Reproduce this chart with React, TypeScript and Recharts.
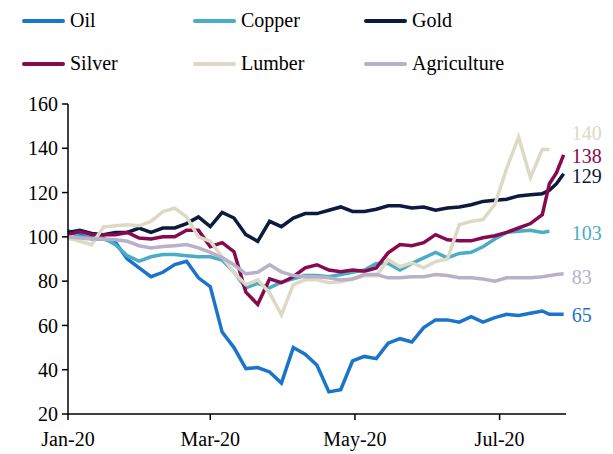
import { Legend, Line, LineChart, ReferenceDot, XAxis, YAxis } from 'recharts'

// days since 1 Jan 2020
const days = [
  0, 5, 10, 15, 20, 25, 30, 35, 40, 45, 50, 55, 60, 65, 70, 75, 80, 85, 90, 95, 100, 105,
  110, 115, 120, 125, 130, 135, 140, 145, 150, 155, 160, 165, 170, 175, 180, 185, 190, 195,
  200, 203, 206, 209,
]

const oil = [
  102, 101, 99, 99, 97.5, 90, 86, 82, 84, 87.5, 89, 81.5, 77.5, 57, 50, 40.5, 41, 39, 34, 50,
  47, 42, 30, 31, 44, 46, 45, 52, 54, 52.5, 59, 62.5, 62.5, 61.5, 64, 61.5, 63.5, 65, 64.5,
  65.5, 66.5, 65, 65, 65,
]
const copper = [
  103, 100, 99.5, 99.5, 96.5, 91.5, 89, 91, 92, 92, 91.5, 91, 91, 89.5, 84, 77, 79, 77, 79.5,
  81, 82.5, 82.5, 82, 83, 84, 85, 88, 88, 85, 88, 90.5, 93, 90.5, 92.5, 93, 95.5, 99, 102,
  102.5, 103, 102, 102.5, null, null,
]
const gold = [
  102, 103, 101.5, 101, 102, 102, 104, 102, 104, 104, 106, 109, 104.6, 111, 108.5, 101, 98,
  107, 104.6, 108.5, 110.5, 110.5, 112, 113.5, 111.5, 111.5, 112.5, 114, 114, 113, 113.5, 112,
  113, 113.5, 114.5, 116, 116.5, 117, 118.5, 119, 119.5, 121, 124, 128.5,
]
const silver = [
  101, 102.5, 101, 101, 101, 102, 99.5, 99, 100, 100, 103, 103, 95.6, 97.4, 93.3, 75, 69.5, 81,
  79.3, 82, 86, 87.4, 85, 84.2, 85, 84.5, 86, 92.8, 96.5, 96, 97.4, 101, 98.7, 98.2, 98.2, 99.6,
  100.5, 102, 104, 106, 110, 124, 129, 137,
]
const lumber = [
  99.5, 98, 96.5, 104.5, 105, 105.5, 105, 107, 111.4, 113, 109, 100, 98, 91, 83.8, 78.4, 80.6,
  74.7, 64.8, 78.4, 80.6, 80.6, 79.3, 79.7, 81, 82.4, 82.4, 89.7, 86.5, 88.3, 86, 88.8, 90,
  105.5, 107, 107.8, 114.6, 131, 145, 126.8, 139.5, 139.5, null, null,
]
const agriculture = [
  100, 99.5, 99, 99, 98.7, 98, 96, 95, 95.6, 96, 96.5, 95, 93, 90.6, 87.4, 83.3, 84, 87.4,
  84.2, 82.5, 82, 82, 81.5, 80.5, 81, 83, 83, 81.5, 81.5, 82, 82, 83, 82.5, 81.5, 81.5, 81,
  80, 81.5, 81.5, 81.5, 82, 82.5, 83, 83.3,
]

const seriesKeys = ['oil', 'copper', 'gold', 'silver', 'lumber', 'agriculture']
const seriesNames = ['Oil', 'Copper', 'Gold', 'Silver', 'Lumber', 'Agriculture']
const seriesColors = ['#1B74CB', '#4BACC6', '#0B1A3E', '#870A50', '#DDD9C4', '#B9B0CA']
const seriesValues = [oil, copper, gold, silver, lumber, agriculture]

// text at the right end of each line, and the level it sits at
const endLabels = ['65', '103', '129', '138', '140', '83']
const endLabelLevels = [64.8, 102, 127.5, 136.5, 147, 82]
const endDay = 209

const xTickDays = [0, 60, 121, 182]
const xTickLabels = ['Jan-20', 'Mar-20', 'May-20', 'Jul-20']
const yTicks = [20, 40, 60, 80, 100, 120, 140, 160]

const data = days.map((day, i) => {
  const row: Record<string, number | null> = { day }
  seriesKeys.forEach((k, j) => {
    row[k] = seriesValues[j][i]
  })
  return row
})

const FONT = "'Liberation Serif', 'Times New Roman', serif"

function LegendGrid() {
  return (
    <div
      style={{
        display: 'grid',
        gridTemplateColumns: 'repeat(3, 171px)',
        gridAutoRows: '43px',
        paddingLeft: 22,
        marginTop: -1,
        height: 86,
        fontFamily: FONT,
        fontSize: 20,
        color: '#000',
      }}
    >
      {seriesNames.map((name, i) => (
        <div key={name} style={{ display: 'flex', alignItems: 'center' }}>
          <span
            style={{
              display: 'inline-block',
              width: 43,
              height: 4,
              borderRadius: 2,
              background: seriesColors[i],
              marginRight: 5,
            }}
          />
          <span style={{ fontFamily: FONT }}>{name}</span>
        </div>
      ))}
    </div>
  )
}

export default function App() {
  return (
    <div style={{ position: 'absolute', left: 0, top: 0, fontFamily: FONT }}>
      <LineChart
        width={613}
        height={454}
        data={data}
        margin={{ top: 19, right: 47, bottom: 0, left: 0 }}
        style={{ fontFamily: FONT }}
      >
        <Legend
          verticalAlign="top"
          align="left"
          content={() => <LegendGrid />}
          wrapperStyle={{ top: 0, left: 0, width: 613, fontFamily: FONT }}
        />
        <XAxis
          type="number"
          dataKey="day"
          domain={[0, 210]}
          ticks={xTickDays}
          interval={0}
          tickFormatter={(v) => xTickLabels[xTickDays.indexOf(v)]}
          height={40}
          tickSize={6}
          tickMargin={12}
          axisLine={{ stroke: '#000', strokeWidth: 1.5 }}
          tickLine={{ stroke: '#000', strokeWidth: 1.5 }}
          tick={{ fontSize: 20, fill: '#000', fontFamily: FONT }}
        />
        <YAxis
          type="number"
          domain={[20, 160]}
          ticks={yTicks}
          interval={0}
          width={68}
          tickSize={6}
          tickMargin={4}
          axisLine={{ stroke: '#000', strokeWidth: 1.5 }}
          tickLine={{ stroke: '#000', strokeWidth: 1.5 }}
          tick={{ fontSize: 20, fill: '#000', fontFamily: FONT }}
        />
        {seriesKeys.map((k, i) => (
          <Line
            key={k}
            type="linear"
            dataKey={k}
            name={seriesNames[i]}
            stroke={seriesColors[i]}
            strokeWidth={3.5}
            dot={false}
            activeDot={false}
            isAnimationActive={false}
          />
        ))}
        {endLabels.map((text, i) => (
          <ReferenceDot
            key={text}
            x={endDay}
            y={endLabelLevels[i]}
            r={0}
            fill="none"
            stroke="none"
            label={{
              value: text,
              position: 'right',
              offset: 8,
              fill: seriesColors[i],
              fontSize: 20,
              fontFamily: FONT,
            }}
          />
        ))}
      </LineChart>
    </div>
  )
}
